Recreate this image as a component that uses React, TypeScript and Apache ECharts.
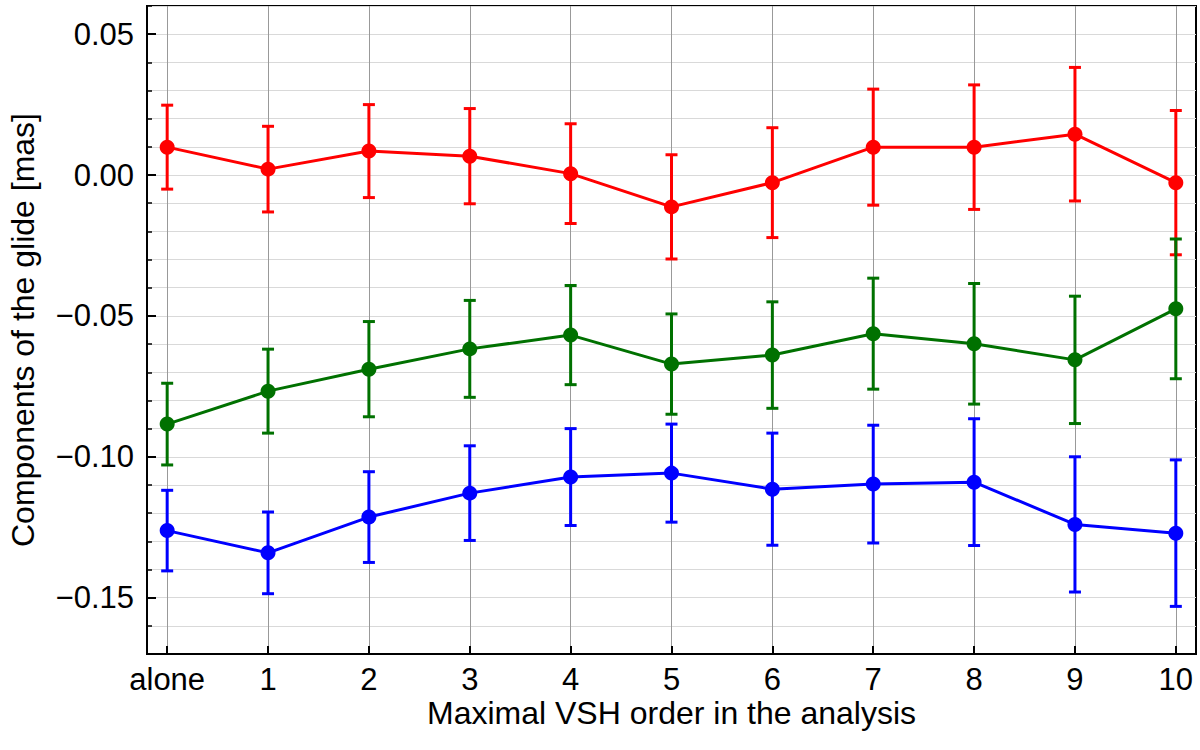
import { useEffect, useRef } from "react";
import * as echarts from "echarts";

// x positions 0..10, first one is labelled "alone"
const categories = ["alone", "1", "2", "3", "4", "5", "6", "7", "8", "9", "10"];
const xs = [0, 1, 2, 3, 4, 5, 6, 7, 8, 9, 10];

const redValues = [0.0099, 0.0021, 0.0085, 0.0067, 0.0005, -0.0113, -0.0027, 0.0099, 0.0099, 0.0145, -0.0027];
const redErrors = [0.0149, 0.0152, 0.0165, 0.0169, 0.0177, 0.0185, 0.0195, 0.0206, 0.0221, 0.0237, 0.0256];

const greenValues = [-0.0884, -0.0767, -0.0689, -0.0617, -0.0568, -0.0671, -0.0639, -0.0563, -0.0599, -0.0656, -0.0475];
const greenErrors = [0.0145, 0.0149, 0.0169, 0.0172, 0.0176, 0.0178, 0.0189, 0.0197, 0.0214, 0.0226, 0.0248];

const blueValues = [-0.1262, -0.1341, -0.1214, -0.1129, -0.1072, -0.1058, -0.1115, -0.1097, -0.109, -0.124, -0.1271];
const blueErrors = [0.0143, 0.0145, 0.0161, 0.0168, 0.0172, 0.0174, 0.0199, 0.0209, 0.0225, 0.024, 0.026];

const majorTicks = [-0.15, -0.1, -0.05, 0, 0.05];

const FONT = "Liberation Sans";

function fmtY(v: number) {
  return v.toFixed(2).replace("-", "\u2212");
}

function makeSeries(name: string, color: string, values: number[], errors: number[]): any[] {
  return [
    {
      name: name + "-err",
      type: "custom",
      data: xs.map((x, i) => [x, values[i] - errors[i], values[i] + errors[i]]),
      encode: { x: 0, y: [1, 2] },
      renderItem: (_params: any, api: any) => {
        const x = api.value(0);
        const top = api.coord([x, api.value(2)]);
        const bot = api.coord([x, api.value(1)]);
        const w = 6;
        const style = { stroke: color, lineWidth: 3 };
        return {
          type: "group",
          children: [
            { type: "line", shape: { x1: top[0], y1: top[1], x2: bot[0], y2: bot[1] }, style },
            { type: "line", shape: { x1: top[0] - w, y1: top[1], x2: top[0] + w, y2: top[1] }, style },
            { type: "line", shape: { x1: bot[0] - w, y1: bot[1], x2: bot[0] + w, y2: bot[1] }, style },
          ],
        };
      },
      z: 3,
    },
    {
      name,
      type: "line",
      data: xs.map((x, i) => [x, values[i]]),
      symbol: "circle",
      symbolSize: 15,
      itemStyle: { color },
      lineStyle: { color, width: 3 },
      z: 4,
    },
  ];
}

export default function App() {
  const chartRef = useRef<HTMLDivElement>(null);

  useEffect(() => {
    if (!chartRef.current) return;
    const chart = echarts.init(chartRef.current, null, { renderer: "svg" });

    const option: any = {
      animation: false,
      backgroundColor: "#fff",
      grid: {
        left: 147,
        right: 4,
        top: 6,
        bottom: 96,
        outerBoundsMode: "none",
        containLabel: false,
        show: true,
        borderColor: "#000",
        borderWidth: 2,
      },
      xAxis: {
        type: "value",
        min: -0.2,
        max: 10.2,
        name: "Maximal VSH order in the analysis",
        nameLocation: "middle",
        nameMoveOverlap: false,
        nameGap: 43,
        nameTextStyle: { fontFamily: FONT, fontSize: 32, color: "#000" },
        axisLine: { show: true, onZero: false, lineStyle: { color: "#000", width: 2 } },
        axisTick: { inside: true, length: 8, customValues: xs, lineStyle: { color: "#000", width: 2 } },
        axisLabel: {
          customValues: xs,
          margin: 10,
          fontFamily: FONT,
          fontSize: 31,
          color: "#000",
          formatter: (v: number) => categories[Math.round(v)],
        },
        splitLine: { show: true, lineStyle: { color: "#999", width: 1 } },
      },
      yAxis: [
        {
          type: "value",
          min: -0.17,
          max: 0.06,
          interval: 0.01,
          name: "Components of the glide [mas]",
          nameLocation: "middle",
          nameMoveOverlap: false,
          nameGap: 108,
          nameTextStyle: { fontFamily: FONT, fontSize: 32, color: "#000" },
          axisLine: { show: true, onZero: false, lineStyle: { color: "#000", width: 2 } },
          axisTick: { inside: true, length: 5, lineStyle: { color: "#000", width: 1.5 } },
          axisLabel: {
            margin: 13,
            fontFamily: FONT,
            fontSize: 31,
            color: "#000",
            formatter: (v: number) => (Math.round(v * 100) % 5 === 0 ? fmtY(v) : ""),
          },
          splitLine: { show: true, lineStyle: { color: "#d9d9d9", width: 1 } },
        },
        {
          type: "value",
          min: -0.17,
          max: 0.06,
          position: "left",
          axisLine: { show: false, onZero: false },
          axisTick: { show: true, inside: true, length: 9, customValues: majorTicks, lineStyle: { color: "#000", width: 2 } },
          axisLabel: { show: false },
          splitLine: { show: false },
        },
      ],
      series: [
        ...makeSeries("red", "#ff0000", redValues, redErrors),
        ...makeSeries("green", "#007100", greenValues, greenErrors),
        ...makeSeries("blue", "#0000ff", blueValues, blueErrors),
      ],
    };

    chart.setOption(option);

    const handleResize = () => chart.resize();
    window.addEventListener("resize", handleResize);
    return () => {
      window.removeEventListener("resize", handleResize);
      chart.dispose();
    };
  }, []);

  return (
    <div
      ref={chartRef}
      style={{ position: "fixed", left: 0, top: 0, width: "1200px", height: "750px" }}
    />
  );
}
